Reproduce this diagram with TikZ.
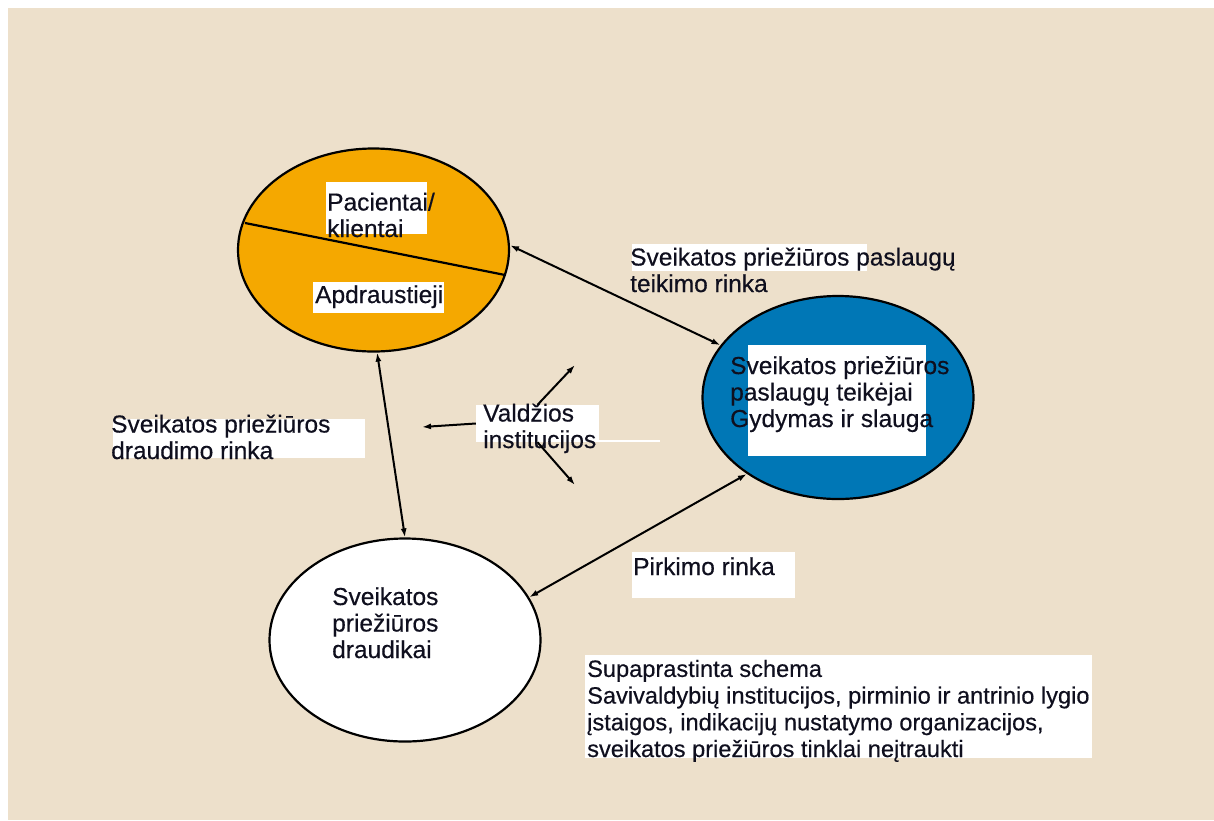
\documentclass[tikz,border=0pt]{standalone}
\usepackage{fontspec}
\setmainfont{Liberation Sans}[FakeBold=0.4]
\usepackage{xcolor}
\usepackage{tikz}
\usetikzlibrary{shapes, arrows, arrows.meta, positioning}
\definecolor{beige}{RGB}{237,224,203}
\definecolor{orangefill}{RGB}{245,168,0}
\definecolor{bluefill}{RGB}{0,119,182}
\definecolor{textcol}{RGB}{15,15,30}

\begin{document}
\begin{tikzpicture}[x=1pt,y=-1pt]
        \useasboundingbox (0,0) rectangle (1214,820);
        \fill[white] (0,0) rectangle (1214,820);
        \fill[beige] (8,8) rectangle (1214,820);
        \begin{scope}[every node/.style={ellipse,draw=black,line width=2.2pt,inner sep=0pt,minimum width=271pt,minimum height=203pt}]
          \node[fill=orangefill] (pac) at (373.5,250) {};
          \node[fill=bluefill] (teik) at (838,397.5) {};
          \node[fill=white] (draud) at (405,640) {};
        \end{scope}
        \draw[line width=2.2pt] (245,223) -- (505,275);
        % white label boxes
        \fill[white] (326,182) rectangle (427,234);
        \fill[white] (313,282) rectangle (444,313);
        \fill[white] (748,345) rectangle (926,456);
        \fill[white] (632,244) rectangle (867,271);
        \fill[white] (113,419) rectangle (365,458);
        \fill[white] (632,552) rectangle (795,598);
        \fill[white] (585,655) rectangle (1092,758);
        \node[fill=white,inner sep=0pt,minimum width=123pt,minimum height=37pt] (val) at (537.5,423.5) {};
        \draw[white,line width=1.5pt] (599,441) -- (660,441);
        \begin{scope}[every node/.style={anchor=base west,inner sep=0pt,align=left,text=textcol,font=\fontsize{24.5}{26.5}\selectfont}]
          \node (pact) at (327,237) {Pacientai/\\klientai};
          \node (apdt) at (315,303) {Apdraustieji};
          \node (teikt) at (730,427) {Sveikatos priežiūros\\paslaugų teikėjai\\Gydymas ir slauga};
          \node (draudt) at (332,658) {Sveikatos\\priežiūros\\draudikai};
          \node (tr) at (630,292) {Sveikatos priežiūros paslaugų\\teikimo rinka};
          \node (dr) at (111,459) {Sveikatos priežiūros\\draudimo rinka};
          \node (pr) at (633,575) {Pirkimo rinka};
          \node (valt) at (483,448) {Valdžios\\institucijos};
          \node[font=\fontsize{23.6}{26.7}\selectfont] (note) at (587,757) {Supaprastinta schema\\Savivaldybių institucijos, pirminio ir antrinio lygio\\įstaigos, indikacijų nustatymo organizacijos,\\sveikatos priežiūros tinklai neįtraukti};
        \end{scope}
        \coordinate (vl) at (422,427);
        \coordinate (vu) at (575,365);
        \coordinate (vd) at (575,485);
        \begin{scope}[every edge/.style={draw=black,line width=2pt,{Latex[length=9pt,width=6pt]}-{Latex[length=9pt,width=6pt]}}]
          \path (pac.2) edge (teik.156);
          \path (pac.-88) edge (draud.90);
          \path (teik.220) edge (draud.19);
        \end{scope}
        \begin{scope}[every edge/.style={draw=black,line width=2pt,-{Latex[length=9pt,width=6pt]}}]
          \path (val.west) edge (vl);
          \path (val.north) edge (vu);
          \path (val.south) edge (vd);
        \end{scope}
      \end{tikzpicture}
\end{document}
